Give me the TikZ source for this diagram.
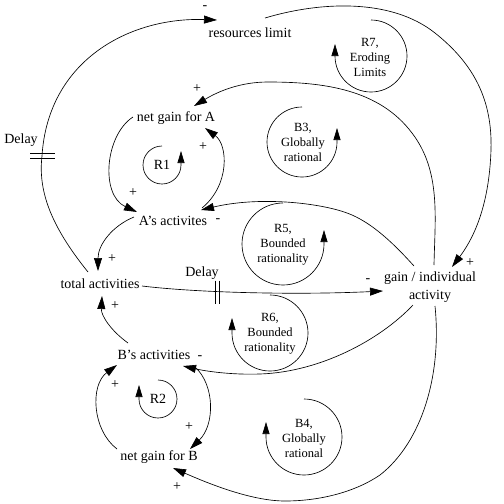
\documentclass[tikz,border=0pt]{standalone}
\usepackage{fontspec}
\setmainfont{Liberation Serif}
\usetikzlibrary{arrows.meta}
\begin{document}
\begin{tikzpicture}[x=1pt,y=-1pt,
  lbl/.style={font=\fontsize{14}{18}\selectfont, inner sep=0pt, align=center},
  loopl/.style={font=\fontsize{12.5}{15}\selectfont, inner sep=0pt, align=center},
  sgn/.style={font=\fontsize{14}{15}\selectfont, inner sep=0pt},
  link/.style={line width=0.65pt, -{Triangle[length=13pt,width=8pt]}},
  looparr/.style={line width=0.65pt, -{Triangle[length=12pt,width=7pt]}},
  delaymark/.style={line width=0.65pt}]
\useasboundingbox (0,0) rectangle (504,504);

% variables
\node[lbl] (res)  at (250,33)  {resources limit};
\node[lbl] (ngA)  at (176,118) {net gain for A};
\node[lbl] (Aact) at (173,221) {A's activites};
\node[lbl] (tot)  at (100,284) {total activities};
\node[lbl] (gain) at (430,287) {gain / individual\\activity};
\node[lbl] (Bact) at (154,355) {B's activities};
\node[lbl] (ngB)  at (159,457) {net gain for B};
\node[lbl] (dl1)  at (21,140)  {Delay};
\node[lbl] (dl2)  at (202,273) {Delay};

% loop labels
\node[lbl]   (r1) at (162,165) {R1};
\node[lbl]   (r2) at (158,399) {R2};
\node[loopl] (r7) at (370,57)  {R7,\\Eroding\\Limits};
\node[loopl] (b3) at (303,142) {B3,\\Globally\\rational};
\node[loopl] (r5) at (283,245) {R5,\\Bounded\\rationality};
\node[loopl] (r6) at (270,334) {R6,\\Bounded\\rationality};
\node[loopl] (b4) at (304,438) {B4,\\Globally\\rational};

% loop arrows
\draw[looparr] (162,165) ++(0,-19) arc[start angle=90,end angle=360,radius=19pt] -- ++(0,-14);
\draw[looparr] (158,399) ++(0,-19) arc[start angle=90,end angle=-180,radius=19pt] -- ++(0,-14);
\draw[looparr] (371,56) ++(0,-36) arc[start angle=90,end angle=-180,radius=36pt] -- ++(0,-12);
\draw[looparr] (302,142) ++(0,-35) arc[start angle=90,end angle=360,radius=35pt] -- ++(0,-14);
\draw[looparr] (283,244) ++(0,-41) arc[start angle=90,end angle=360,radius=41pt] -- ++(0,-14);
\draw[looparr] (270,333) ++(0,-38) arc[start angle=90,end angle=-180,radius=38pt] -- ++(0,-15);
\draw[looparr] (304,437) ++(0,-38) arc[start angle=90,end angle=-180,radius=38pt] -- ++(0,-15);

% connectors
% total activities -> resources limit (delay)
\draw[link] ([shift={(-12,-12)}]tot.center) .. controls (50,225) and (38,190) .. (42,156) coordinate (dA)
  .. controls (48,60) and (130,17) .. ([shift={(-33,-13)}]res.center);
% resources limit -> gain
\draw[link] ([shift={(15,-15)}]res.center) .. controls (320,1.5) and (391,-2) .. (435,33)
  .. controls (474,64) and (492.5,100) .. (491,150)
  .. controls (489.5,195) and (479,231) .. ([shift={(22,-20)}]gain.center);
% gain -> net gain for A
\draw[link] ([shift={(4,-22)}]gain.center) .. controls (435,217) and (441,171) .. (412,133)
  .. controls (379,89) and (323,82) .. (268,82)
  .. controls (240,82) and (218,91.5) .. ([shift={(18,-12)}]ngA.center);
% gain -> A's activites
\draw[link] ([shift={(-16,-21)}]gain.center) .. controls (395,245) and (372,222) .. (347,213)
  .. controls (320,203) and (260,196) .. ([shift={(28,-11)}]Aact.center);
% gain -> B's activities
\draw[link] ([shift={(-17,18)}]gain.center) .. controls (380,340) and (320,372) .. (260,374)
  .. controls (230,375) and (205,371) .. ([shift={(29,11)}]Bact.center);
% gain -> net gain for B
\draw[link] ([shift={(5,19)}]gain.center) .. controls (442,375) and (422,442) .. (380,475)
  .. controls (355,492) and (320,501) .. (285,501)
  .. controls (250,501) and (205,482) .. ([shift={(14,11)}]ngB.center);
% total activities -> gain (delay)
\draw[link] ([shift={(42,2)}]tot.center) .. controls (200,293) and (300,295) .. coordinate[pos=0.355] (dB) ([shift={(-47,4)}]gain.center);
% A's activites -> total activities
\draw[link] ([shift={(-39,-4)}]Aact.center) .. controls (112,226) and (98,245) .. ([shift={(-2,-13)}]tot.center);
% B's activities -> total activities
\draw[link] ([shift={(-26,-12)}]Bact.center) .. controls (110,330) and (101,315) .. ([shift={(2,12)}]tot.center);
% R1 loop
\draw[link] ([shift={(-43,-1)}]ngA.center) .. controls (105,135) and (100,195) .. ([shift={(-36,-9)}]Aact.center);
\draw[link] ([shift={(29,-13)}]Aact.center) .. controls (230,185) and (228,145) .. ([shift={(29,10)}]ngA.center);
% R2 loop
\draw[link] ([shift={(-42,-8)}]ngB.center) .. controls (92,430) and (90,385) .. ([shift={(-37,10)}]Bact.center);
\draw[link] ([shift={(41,12)}]Bact.center) .. controls (215,385) and (215,425) .. ([shift={(31,-8)}]ngB.center);

% delay marks
\draw[delaymark] ([shift={(-12,-2.5)}]dA) -- ([shift={(13,-2.5)}]dA);
\draw[delaymark] ([shift={(-12,2.5)}]dA) -- ([shift={(13,2.5)}]dA);
\draw[delaymark] ([shift={(-2,-11)}]dB) -- ([shift={(-2,12)}]dB);
\draw[delaymark] ([shift={(2,-11)}]dB) -- ([shift={(2,12)}]dB);

% polarity signs
\node[sgn] (s1)  at (205,8)   {-};
\node[sgn] (s2)  at (470,263) {+};
\node[sgn] (s3)  at (197,89)  {+};
\node[sgn] (s4)  at (218,221) {-};
\node[sgn] (s5)  at (200,358) {-};
\node[sgn] (s6)  at (177,487) {+};
\node[sgn] (s7)  at (368,281) {-};
\node[sgn] (s8)  at (112,259) {+};
\node[sgn] (s9)  at (115,306) {+};
\node[sgn] (s10) at (133,193) {+};
\node[sgn] (s11) at (203,147) {+};
\node[sgn] (s12) at (115,385) {+};
\node[sgn] (s13) at (189,427) {+};
\end{tikzpicture}
\end{document}
